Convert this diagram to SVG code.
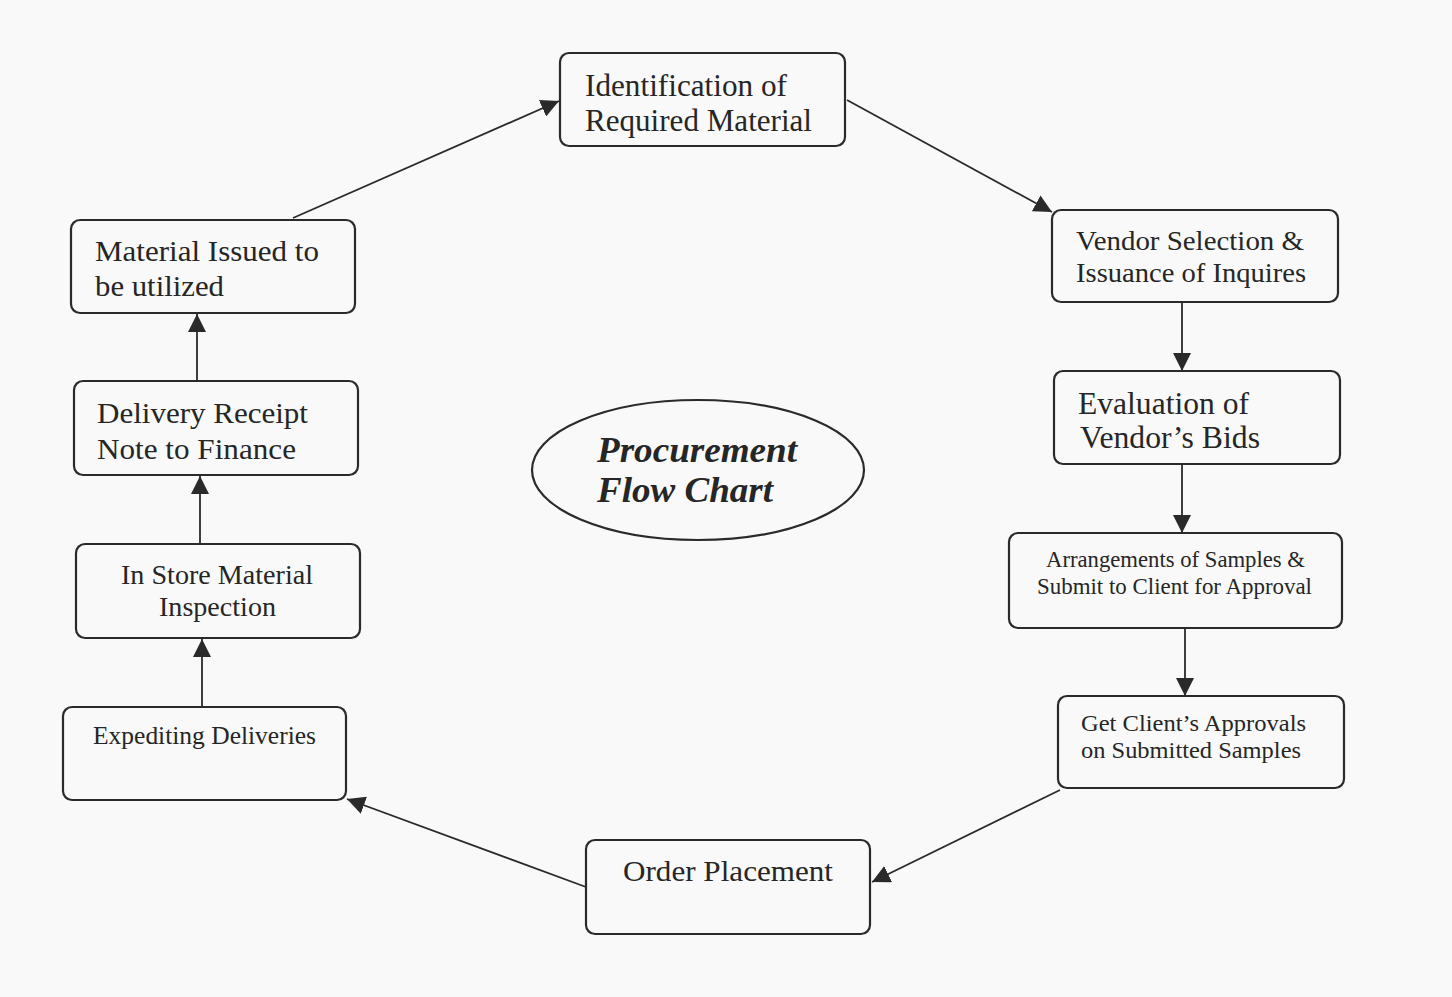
<svg xmlns="http://www.w3.org/2000/svg" width="1452" height="997" viewBox="0 0 1452 997">
<defs>
<marker id="arr" viewBox="0 0 10 10" refX="10" refY="5" markerWidth="18" markerHeight="18" markerUnits="userSpaceOnUse" orient="auto">
<path d="M0,0 L10,5 L0,10 z" fill="#2a2a2a"/>
</marker>
<style>
.box{fill:none;stroke:#2a2a2a;stroke-width:2.2}
.t{font-family:"Liberation Serif","Times New Roman",serif;fill:#262626}
.c{stroke:#2a2a2a;stroke-width:1.8;fill:none;marker-end:url(#arr)}
</style>
</defs>
<rect width="1452" height="997" fill="#f8f9f8"/>
<g id="connectors">
<line class="c" x1="293" y1="218" x2="559" y2="101"/>
<line class="c" x1="847" y1="100" x2="1052" y2="212"/>
<line class="c" x1="1182" y1="302" x2="1182" y2="371"/>
<line class="c" x1="1182" y1="464" x2="1182" y2="533"/>
<line class="c" x1="1185" y1="628" x2="1185" y2="696"/>
<line class="c" x1="1060" y1="790" x2="872" y2="882"/>
<line class="c" x1="586" y1="887" x2="347" y2="799"/>
<line class="c" x1="202" y1="707" x2="202" y2="639"/>
<line class="c" x1="200" y1="544" x2="200" y2="476"/>
<line class="c" x1="197" y1="381" x2="197" y2="314"/>
</g>
<g id="n1">
<rect class="box" x="560" y="53" width="285" height="93" rx="9"/>
<text class="t" x="585" y="96" font-size="31" textLength="202" lengthAdjust="spacingAndGlyphs">Identification of</text>
<text class="t" x="585" y="131" font-size="31" textLength="227" lengthAdjust="spacingAndGlyphs">Required Material</text>
</g>
<g id="n2">
<rect class="box" x="1052" y="210" width="286" height="92" rx="9"/>
<text class="t" x="1076" y="250" font-size="28" textLength="228" lengthAdjust="spacingAndGlyphs">Vendor Selection &amp;</text>
<text class="t" x="1076" y="282" font-size="28" textLength="230" lengthAdjust="spacingAndGlyphs">Issuance of Inquires</text>
</g>
<g id="n3">
<rect class="box" x="1054" y="371" width="286" height="93" rx="9"/>
<text class="t" x="1078" y="414" font-size="31" textLength="171" lengthAdjust="spacingAndGlyphs">Evaluation of</text>
<text class="t" x="1080" y="448" font-size="31" textLength="180" lengthAdjust="spacingAndGlyphs">Vendor’s Bids</text>
</g>
<g id="n4">
<rect class="box" x="1009" y="533" width="333" height="95" rx="9"/>
<text class="t" x="1046" y="567" font-size="22.5" textLength="259" lengthAdjust="spacingAndGlyphs">Arrangements of Samples &amp;</text>
<text class="t" x="1037" y="594" font-size="22.5" textLength="275" lengthAdjust="spacingAndGlyphs">Submit to Client for Approval</text>
</g>
<g id="n5">
<rect class="box" x="1058" y="696" width="286" height="92" rx="9"/>
<text class="t" x="1081" y="731" font-size="24" textLength="225" lengthAdjust="spacingAndGlyphs">Get Client’s Approvals</text>
<text class="t" x="1081" y="758" font-size="24" textLength="220" lengthAdjust="spacingAndGlyphs">on Submitted Samples</text>
</g>
<g id="n6">
<rect class="box" x="586" y="840" width="284" height="94" rx="9"/>
<text class="t" x="623" y="881" font-size="30" textLength="210" lengthAdjust="spacingAndGlyphs">Order Placement</text>
</g>
<g id="n7">
<rect class="box" x="63" y="707" width="283" height="93" rx="9"/>
<text class="t" x="93" y="744" font-size="25" textLength="223" lengthAdjust="spacingAndGlyphs">Expediting Deliveries</text>
</g>
<g id="n8">
<rect class="box" x="76" y="544" width="284" height="94" rx="9"/>
<text class="t" x="121" y="584" font-size="28" textLength="192" lengthAdjust="spacingAndGlyphs">In Store Material</text>
<text class="t" x="159" y="616" font-size="28" textLength="117" lengthAdjust="spacingAndGlyphs">Inspection</text>
</g>
<g id="n9">
<rect class="box" x="74" y="381" width="284" height="94" rx="9"/>
<text class="t" x="97" y="423" font-size="30" textLength="211" lengthAdjust="spacingAndGlyphs">Delivery Receipt</text>
<text class="t" x="97" y="459" font-size="30" textLength="199" lengthAdjust="spacingAndGlyphs">Note to Finance</text>
</g>
<g id="n10">
<rect class="box" x="71" y="220" width="284" height="93" rx="9"/>
<text class="t" x="95" y="261" font-size="30" textLength="224" lengthAdjust="spacingAndGlyphs">Material Issued to</text>
<text class="t" x="95" y="296" font-size="30" textLength="129" lengthAdjust="spacingAndGlyphs">be utilized</text>
</g>
<g id="title">
<ellipse class="box" cx="698" cy="470" rx="166" ry="70"/>
<text class="t" x="597" y="462" font-size="36" font-weight="bold" font-style="italic" textLength="200" lengthAdjust="spacingAndGlyphs">Procurement</text>
<text class="t" x="597" y="502" font-size="36" font-weight="bold" font-style="italic" textLength="176" lengthAdjust="spacingAndGlyphs">Flow Chart</text>
</g>
</svg>
